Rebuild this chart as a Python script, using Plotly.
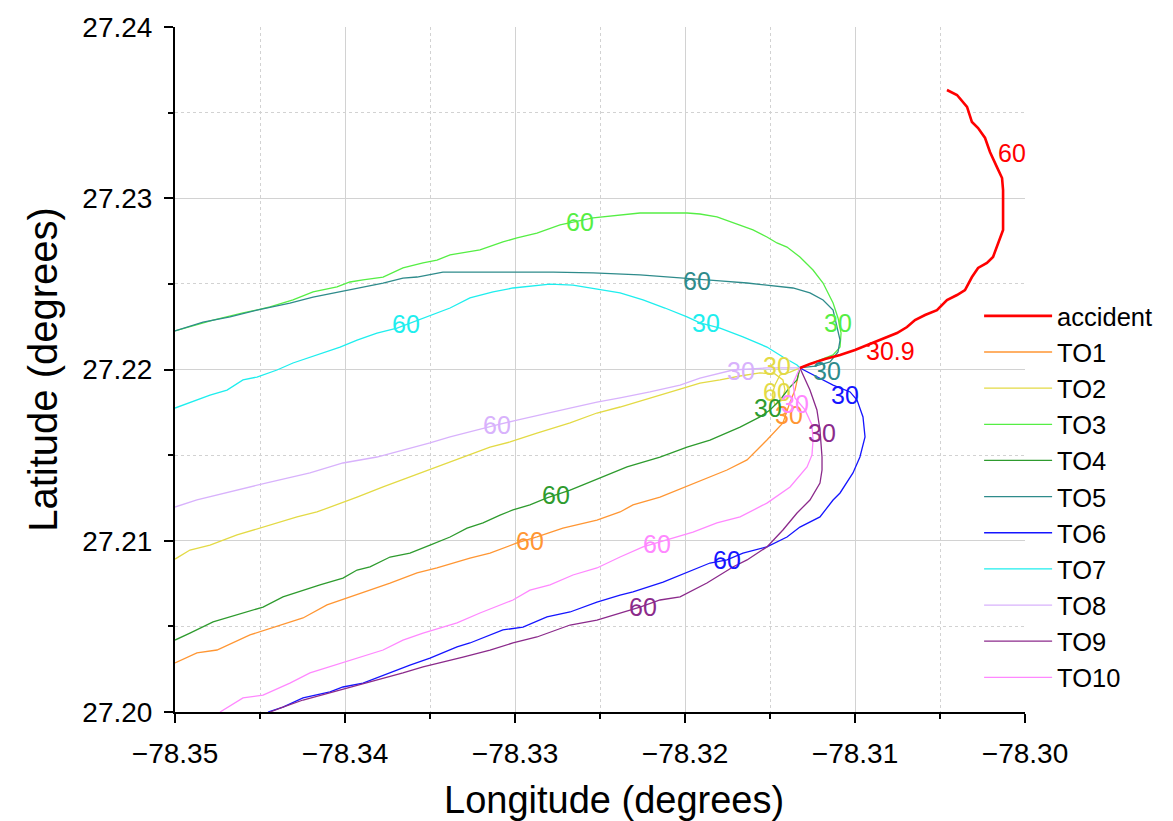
import plotly.graph_objects as go

# ---------------- data (lon, lat) ----------------
accident_lon = [-78.31324, -78.31265, -78.31176, -78.31088, -78.31000, -78.30894, -78.30824, -78.30753,
                -78.30694, -78.30647, -78.30588, -78.30518, -78.30459, -78.30400, -78.30353, -78.30312,
                -78.30276, -78.30224, -78.30188, -78.30159, -78.30129, -78.30129, -78.30135, -78.30165,
                -78.30206, -78.30235, -78.30276, -78.30312, -78.30341, -78.30400, -78.30459]
accident_lat = [27.22009, 27.22032, 27.22061, 27.22085, 27.22114, 27.22155, 27.22184, 27.22213,
                27.22248, 27.22289, 27.22318, 27.22347, 27.22406, 27.22435, 27.22464, 27.22540,
                27.22593, 27.22622, 27.22657, 27.22739, 27.22815, 27.23048, 27.23118, 27.23182,
                27.23270, 27.23352, 27.23410, 27.23445, 27.23533, 27.23603, 27.23632]

to1_lon = [-78.31324, -78.31353, -78.31382, -78.31424, -78.31518, -78.31635, -78.31753, -78.31853,
           -78.32012, -78.32147, -78.32306, -78.32382, -78.32518, -78.32718, -78.32871, -78.32988,
           -78.33147, -78.33265, -78.33459, -78.33576, -78.33735, -78.33853, -78.34106, -78.34247,
           -78.34382, -78.34559, -78.34753, -78.34871, -78.35000]
to1_lat = [27.22009, 27.21880, 27.21810, 27.21688, 27.21588, 27.21472, 27.21413, 27.21372,
           27.21308, 27.21255, 27.21209, 27.21168, 27.21121, 27.21074, 27.21022, 27.20987,
           27.20928, 27.20899, 27.20841, 27.20812, 27.20753, 27.20712, 27.20625, 27.20549,
           27.20508, 27.20450, 27.20362, 27.20345, 27.20286]

to2_lon = [-78.31324, -78.31382, -78.31441, -78.31471, -78.31488, -78.31471, -78.31429, -78.31412,
           -78.31424, -78.31471, -78.31559, -78.31676, -78.31794, -78.31912, -78.32029, -78.32147,
           -78.32265, -78.32382, -78.32518, -78.32676, -78.32871, -78.33029, -78.33147, -78.33306,
           -78.33459, -78.33618, -78.33776, -78.33929, -78.34012, -78.34165, -78.34282, -78.34482,
           -78.34635, -78.34794, -78.34912, -78.35000]
to2_lat = [27.22009, 27.21985, 27.21968, 27.21909, 27.21851, 27.21793, 27.21822, 27.21880,
           27.21939, 27.21974, 27.21980, 27.21962, 27.21939, 27.21921, 27.21886, 27.21851,
           27.21816, 27.21781, 27.21746, 27.21688, 27.21629, 27.21577, 27.21547, 27.21489,
           27.21431, 27.21372, 27.21314, 27.21255, 27.21226, 27.21168, 27.21139, 27.21080,
           27.21034, 27.20975, 27.20946, 27.20893]

to3_lon = [-78.31324, -78.31247, -78.31129, -78.31088, -78.31082, -78.31100, -78.31129, -78.31188,
           -78.31247, -78.31324, -78.31400, -78.31459, -78.31518, -78.31600, -78.31718, -78.31812,
           -78.31912, -78.31988, -78.32265, -78.32541, -78.32735, -78.32871, -78.32988, -78.33071,
           -78.33206, -78.33282, -78.33382, -78.33459, -78.33541, -78.33659, -78.33776, -78.33894,
           -78.33971, -78.34047, -78.34188, -78.34306, -78.34441, -78.34600, -78.34776, -78.35000]
to3_lat = [27.22009, 27.22038, 27.22085, 27.22131, 27.22213, 27.22301, 27.22388, 27.22505,
           27.22581, 27.22657, 27.22715, 27.22739, 27.22774, 27.22815, 27.22855, 27.22891,
           27.22908, 27.22914, 27.22914, 27.22885, 27.22844, 27.22797, 27.22768, 27.22745,
           27.22698, 27.22686, 27.22669, 27.22639, 27.22622, 27.22593, 27.22540, 27.22523,
           27.22511, 27.22482, 27.22453, 27.22406, 27.22365, 27.22330, 27.22289, 27.22225]

to4_lon = [-78.31324, -78.31341, -78.31382, -78.31441, -78.31500, -78.31559, -78.31676, -78.31853,
           -78.31988, -78.32147, -78.32341, -78.32482, -78.32600, -78.32676, -78.32812, -78.32912,
           -78.33012, -78.33088, -78.33188, -78.33282, -78.33382, -78.33500, -78.33618, -78.33735,
           -78.33853, -78.33929, -78.34012, -78.34147, -78.34282, -78.34365, -78.34482, -78.34635,
           -78.34776, -78.34912, -78.35000]
to4_lat = [27.22009, 27.21939, 27.21898, 27.21822, 27.21764, 27.21723, 27.21664, 27.21588,
           27.21547, 27.21489, 27.21431, 27.21372, 27.21326, 27.21296, 27.21250, 27.21209,
           27.21180, 27.21150, 27.21104, 27.21074, 27.21022, 27.20975, 27.20928, 27.20905,
           27.20847, 27.20829, 27.20782, 27.20742, 27.20701, 27.20672, 27.20613, 27.20566,
           27.20526, 27.20461, 27.20420]

to5_lon = [-78.31324, -78.31235, -78.31147, -78.31100, -78.31088, -78.31129, -78.31188, -78.31265,
           -78.31365, -78.31518, -78.31635, -78.31794, -78.31953, -78.32265, -78.32541, -78.32776,
           -78.33012, -78.33424, -78.33576, -78.33659, -78.33776, -78.33929, -78.34047, -78.34188,
           -78.34324, -78.34518, -78.34676, -78.34835, -78.35000]
to5_lat = [27.22009, 27.22020, 27.22044, 27.22102, 27.22172, 27.22347, 27.22406, 27.22447,
           27.22476, 27.22493, 27.22505, 27.22517, 27.22528, 27.22552, 27.22564, 27.22569,
           27.22569, 27.22569, 27.22540, 27.22534, 27.22505, 27.22476, 27.22453, 27.22423,
           27.22388, 27.22347, 27.22307, 27.22277, 27.22225]

to6_lon = [-78.31324, -78.31224, -78.31129, -78.31029, -78.30988, -78.30953, -78.30941, -78.30971,
           -78.31012, -78.31088, -78.31129, -78.31206, -78.31324, -78.31400, -78.31518, -78.31659,
           -78.31753, -78.31853, -78.31988, -78.32129, -78.32306, -78.32382, -78.32518, -78.32676,
           -78.32812, -78.32953, -78.33071, -78.33147, -78.33265, -78.33341, -78.33500, -78.33618,
           -78.33735, -78.33894, -78.34012, -78.34088, -78.34247, -78.34365, -78.34453]
to6_lat = [27.22009, 27.21956, 27.21909, 27.21869, 27.21822, 27.21723, 27.21606, 27.21489,
           27.21396, 27.21279, 27.21238, 27.21139, 27.21080, 27.21022, 27.20964, 27.20928,
           27.20888, 27.20870, 27.20818, 27.20759, 27.20701, 27.20683, 27.20642, 27.20584,
           27.20555, 27.20496, 27.20479, 27.20450, 27.20403, 27.20380, 27.20315, 27.20274,
           27.20228, 27.20169, 27.20146, 27.20117, 27.20082, 27.20029, 27.20000]

to7_lon = [-78.31324, -78.31341, -78.31424, -78.31518, -78.31659, -78.31794, -78.31912, -78.31988,
           -78.32118, -78.32247, -78.32382, -78.32518, -78.32659, -78.32794, -78.32912, -78.33012,
           -78.33129, -78.33265, -78.33382, -78.33459, -78.33576, -78.33694, -78.33812, -78.33929,
           -78.34029, -78.34165, -78.34306, -78.34400, -78.34518, -78.34600, -78.34694, -78.34794,
           -78.34912, -78.35000]
to7_lat = [27.22009, 27.22026, 27.22073, 27.22131, 27.22190, 27.22242, 27.22272, 27.22307,
           27.22359, 27.22406, 27.22447, 27.22470, 27.22493, 27.22499, 27.22488, 27.22476,
           27.22453, 27.22418, 27.22359, 27.22330, 27.22289, 27.22242, 27.22213, 27.22172,
           27.22131, 27.22085, 27.22038, 27.21997, 27.21956, 27.21939, 27.21880, 27.21851,
           27.21810, 27.21775]

to8_lon = [-78.31324, -78.31518, -78.31718, -78.31912, -78.32029, -78.32206, -78.32382, -78.32518,
           -78.32676, -78.32812, -78.32988, -78.33106, -78.33265, -78.33382, -78.33500, -78.33659,
           -78.33812, -78.34012, -78.34206, -78.34441, -78.34676, -78.34871, -78.35000]
to8_lat = [27.22009, 27.22009, 27.21997, 27.21950, 27.21909, 27.21869, 27.21834, 27.21810,
           27.21775, 27.21746, 27.21705, 27.21676, 27.21635, 27.21606, 27.21571, 27.21530,
           27.21489, 27.21454, 27.21396, 27.21343, 27.21285, 27.21238, 27.21197]

to9_lon = [-78.31324, -78.31265, -78.31224, -78.31206, -78.31194, -78.31194, -78.31206, -78.31265,
           -78.31341, -78.31424, -78.31518, -78.31635, -78.31718, -78.31871, -78.32029, -78.32147,
           -78.32265, -78.32382, -78.32518, -78.32676, -78.32871, -78.33012, -78.33147, -78.33306,
           -78.33459, -78.33541, -78.33659, -78.33812, -78.33971, -78.34088, -78.34247, -78.34365,
           -78.34441]
to9_lat = [27.22009, 27.21880, 27.21764, 27.21647, 27.21489, 27.21413, 27.21337, 27.21238,
           27.21162, 27.21063, 27.20964, 27.20888, 27.20847, 27.20753, 27.20672, 27.20654,
           27.20613, 27.20578, 27.20537, 27.20508, 27.20438, 27.20403, 27.20362, 27.20321,
           27.20286, 27.20263, 27.20228, 27.20187, 27.20146, 27.20117, 27.20070, 27.20029,
           27.20000]

to10_lon = [-78.31324, -78.31365, -78.31353, -78.31294, -78.31253, -78.31247, -78.31253, -78.31282,
            -78.31382, -78.31518, -78.31676, -78.31812, -78.31953, -78.32106, -78.32247, -78.32382,
            -78.32518, -78.32659, -78.32794, -78.32912, -78.33012, -78.33206, -78.33341, -78.33541,
            -78.33659, -78.33776, -78.33929, -78.34012, -78.34206, -78.34324, -78.34482, -78.34600,
            -78.34735]
to10_lat = [27.22009, 27.21921, 27.21834, 27.21764, 27.21676, 27.21588, 27.21501, 27.21431,
            27.21314, 27.21220, 27.21139, 27.21104, 27.21051, 27.21004, 27.20964, 27.20905,
            27.20841, 27.20800, 27.20742, 27.20712, 27.20654, 27.20578, 27.20520, 27.20461,
            27.20420, 27.20362, 27.20315, 27.20286, 27.20228, 27.20169, 27.20099, 27.20082,
            27.20000]

series_names = ["accident", "TO1", "TO2", "TO3", "TO4", "TO5", "TO6", "TO7", "TO8", "TO9", "TO10"]
series_lon = [accident_lon, to1_lon, to2_lon, to3_lon, to4_lon, to5_lon, to6_lon, to7_lon, to8_lon, to9_lon, to10_lon]
series_lat = [accident_lat, to1_lat, to2_lat, to3_lat, to4_lat, to5_lat, to6_lat, to7_lat, to8_lat, to9_lat, to10_lat]

# time labels (minutes) placed along each track
label_text = [["60", "30.9"], ["60", "30"], ["30", "60"], ["60", "30"], ["60", "30"], ["60", "30"],
              ["60", "30"], ["60", "30"], ["60", "30"], ["60", "30"], ["60", "30"]]
label_lon = [[-78.30076, -78.30794], [-78.32912, -78.31388], [-78.31459, -78.31459], [-78.32618, -78.31100],
             [-78.32759, -78.31512], [-78.31929, -78.31165], [-78.31753, -78.31059], [-78.33641, -78.31876],
             [-78.33106, -78.31671], [-78.32247, -78.31194], [-78.32165, -78.31353]]
label_lat = [[27.23264, 27.22108], [27.20999, 27.21734], [27.22020, 27.21869], [27.22861, 27.22272],
             [27.21267, 27.21775], [27.22517, 27.21991], [27.20888, 27.21851], [27.22266, 27.22272],
             [27.21676, 27.21991], [27.20613, 27.21629], [27.20981, 27.21799]]

x_title = "Longitude (degrees)"
y_title = "Latitude (degrees)"

# ---------------- styles ----------------
colors = ["#FF0000", "#FF9633", "#E3DA45", "#55EE44", "#2E9B2E", "#2E8B8B",
          "#1515FF", "#1EEEEE", "#D8B2FC", "#8B2A8B", "#FF88FF"]
widths = [2.6] + [1.3] * 10
FONT = "Liberation Sans, Arial, sans-serif"

fig = go.Figure()
# draw TO tracks first, accident on top
draw_order = list(range(1, 11)) + [0]
for i in draw_order:
    fig.add_trace(go.Scatter(
        x=series_lon[i], y=series_lat[i], mode="lines", name=series_names[i],
        line=dict(color=colors[i], width=widths[i]), legendrank=i + 1,
    ))

for i in range(len(series_names)):
    for t, lx, ly in zip(label_text[i], label_lon[i], label_lat[i]):
        fig.add_annotation(x=lx, y=ly, text=t, showarrow=False,
                           font=dict(family=FONT, size=25, color=colors[i]),
                           xanchor="center", yanchor="middle")

# x-axis title (slightly right of centre, as in the source figure)
fig.add_annotation(xref="paper", yref="paper", x=0.517, y=-0.128, text=x_title,
                   showarrow=False, xanchor="center", yanchor="middle",
                   font=dict(family=FONT, size=38, color="black"))

axis_common = dict(
    showline=True, linecolor="black", linewidth=2, mirror=False,
    ticks="outside", ticklen=9, tickwidth=2, tickcolor="black",
    showgrid=True, gridcolor="#d2d2d2", gridwidth=1, zeroline=False,
    tickfont=dict(family=FONT, size=28, color="black"),
    ticklabelstandoff=6,
)

fig.update_xaxes(
    range=[-78.35, -78.30], dtick=0.01, tick0=-78.35, tickformat=".2f",
    minor=dict(dtick=0.005, showgrid=True, griddash="dot", gridcolor="#d2d2d2",
               ticks="outside", ticklen=5, tickwidth=2, tickcolor="black"),
    **axis_common,
)
fig.update_yaxes(
    range=[27.20, 27.24], dtick=0.01, tick0=27.20, tickformat=".2f",
    title=dict(text=y_title, font=dict(family=FONT, size=40, color="black"), standoff=12),
    minor=dict(dtick=0.005, showgrid=True, griddash="dot", gridcolor="#d2d2d2",
               ticks="outside", ticklen=5, tickwidth=2, tickcolor="black"),
    **axis_common,
)

fig.update_layout(
    width=1173, height=821,
    margin=dict(l=175, r=148, t=27, b=109, autoexpand=False),
    plot_bgcolor="white", paper_bgcolor="white",
    font=dict(family=FONT, color="black"),
    legend=dict(x=0.946, y=0.612, xanchor="left", yanchor="top",
                font=dict(family=FONT, size=25.5, color="black"),
                bgcolor="rgba(0,0,0,0)", borderwidth=0, itemwidth=68,
                traceorder="normal"),
    showlegend=True,
)

fig.write_html("out.html")
